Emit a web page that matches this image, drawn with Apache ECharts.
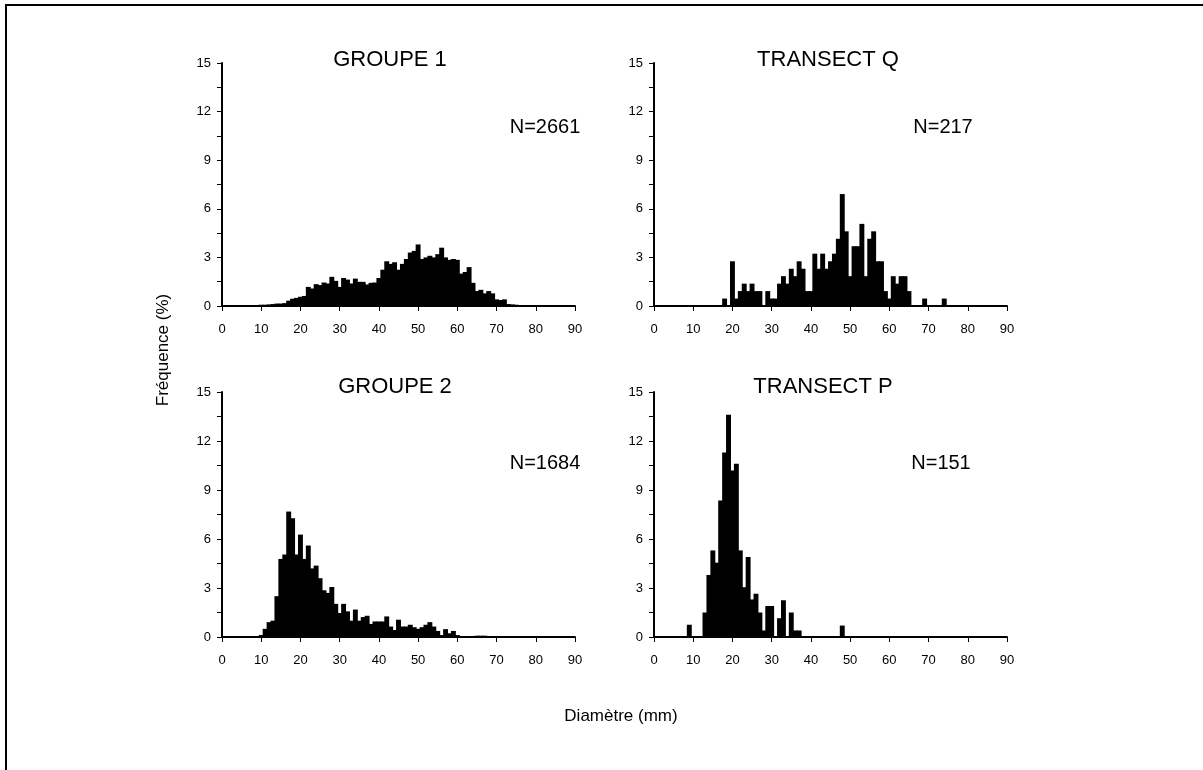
<!DOCTYPE html>
<html>
<head>
<meta charset="utf-8">
<script src="https://cdn.jsdelivr.net/npm/echarts@6/dist/echarts.min.js"></script>
<style>
  html, body { margin: 0; padding: 0; background: #fff; }
  #chart { width: 1203px; height: 770px; }
</style>
</head>
<body>
<div id="chart"></div>
<script>
// fréquences (%) par classe de diamètre de 1 mm (0 à 89 mm)
var groupe1 = [
  0, 0, 0, 0, 0, 0.03, 0.03, 0.05, 0.05, 0.05,
  0.08, 0.08, 0.1, 0.12, 0.15, 0.15, 0.18, 0.33, 0.45, 0.5,
  0.57, 0.62, 1.18, 1.08, 1.35, 1.29, 1.45, 1.39, 1.8, 1.55,
  1.18, 1.73, 1.63, 1.39, 1.69, 1.49, 1.49, 1.33, 1.43, 1.45,
  1.73, 2.24, 2.76, 2.6, 2.7, 2.24, 2.6, 2.9, 3.3, 3.4,
  3.8, 2.9, 3.0, 3.1, 3.0, 3.2, 3.6, 3.0, 2.85, 2.9,
  2.85, 2.0, 2.1, 2.4, 1.43, 0.92, 1.0, 0.78, 0.92, 0.78,
  0.41, 0.37, 0.41, 0.12, 0.1, 0.08, 0.06, 0.06, 0.05, 0.05,
  0.04, 0.04, 0.03, 0.03, 0.03, 0.03, 0.03, 0.03, 0.03, 0.03
];
var transectQ = [
  0, 0, 0, 0, 0, 0, 0, 0, 0, 0,
  0, 0, 0, 0, 0, 0, 0, 0, 0.46, 0,
  2.76, 0.46, 0.92, 1.38, 0.92, 1.38, 0.92, 0.92, 0, 0.92,
  0.46, 0.46, 1.38, 1.84, 1.38, 2.30, 1.84, 2.76, 2.30, 0.92,
  0.92, 3.23, 2.30, 3.23, 2.30, 2.76, 3.23, 4.15, 6.91, 4.61,
  1.84, 3.69, 3.69, 5.07, 1.84, 4.15, 4.61, 2.76, 2.76, 0.92,
  0.46, 1.84, 1.38, 1.84, 1.84, 0.92, 0, 0, 0, 0.46,
  0, 0, 0, 0, 0.46, 0, 0, 0, 0, 0,
  0, 0, 0, 0, 0, 0, 0, 0, 0, 0
];
var groupe2 = [
  0, 0, 0, 0, 0, 0, 0, 0, 0, 0.03,
  0.12, 0.5, 0.91, 1.0, 2.5, 4.78, 5.05, 7.68, 7.27, 5.05,
  6.27, 4.78, 5.6, 4.2, 4.37, 3.6, 2.86, 2.7, 3.06, 2.03,
  1.47, 2.03, 1.57, 1.0, 1.68, 1.0, 1.22, 1.3, 0.8, 0.95,
  0.95, 0.95, 1.26, 0.64, 0.43, 1.06, 0.64, 0.64, 0.75, 0.6,
  0.5, 0.6, 0.75, 0.91, 0.64, 0.37, 0.12, 0.48, 0.23, 0.37,
  0.12, 0.06, 0.06, 0.06, 0.06, 0.08, 0.08, 0.08, 0.03, 0.03,
  0.03, 0.03, 0.03, 0.03, 0.03, 0.03, 0.03, 0.03, 0.03, 0.03,
  0.03, 0.03, 0.03, 0.03, 0.03, 0.03, 0.03, 0.03, 0.03, 0.03
];
var transectP = [
  0, 0, 0, 0, 0, 0, 0, 0, 0, 0.75,
  0, 0, 0, 1.5, 3.8, 5.3, 4.55, 8.35, 11.3, 13.6,
  10.2, 10.6, 5.3, 3.05, 4.9, 2.3, 2.65, 1.5, 0.4, 1.9,
  1.9, 0, 1.15, 2.25, 0, 1.5, 0.4, 0.4, 0, 0,
  0, 0, 0, 0, 0, 0, 0, 0, 0.7, 0,
  0, 0, 0, 0, 0, 0, 0, 0, 0, 0,
  0, 0, 0, 0, 0, 0, 0, 0, 0, 0,
  0, 0, 0, 0, 0, 0, 0, 0, 0, 0,
  0, 0, 0, 0, 0, 0, 0, 0, 0, 0
];
var titres = ['GROUPE 1', 'TRANSECT Q', 'GROUPE 2', 'TRANSECT P'];
var effectifs = ['N=2661', 'N=217', 'N=1684', 'N=151'];
var yMax = 15, yPas = 1.5, xMax = 90, xPas = 10;

var police = 'Liberation Sans, Arial, sans-serif';
var series = [groupe1, transectQ, groupe2, transectP];
var grilles = [
  { left: 222, top: 63, width: 353, height: 243 },
  { left: 654, top: 63, width: 353, height: 243 },
  { left: 222, top: 392, width: 353, height: 245 },
  { left: 654, top: 392, width: 353, height: 245 }
];
var titrePos = [[390, 60], [828, 60], [395, 387], [823, 387]];
var nPos = [[545, 127], [943, 127], [545, 463], [941, 463]];

var ligne = { show: true, lineStyle: { color: '#000', width: 2 } };
var tick = { show: true, inside: false, length: 5, lineStyle: { color: '#000', width: 1 } };

// histogramme : classe de 1 mm centrée sur la valeur,
// élargie d'un demi-pixel de chaque côté pour éviter les liserés blancs
function barre(params, api) {
  var x = api.value(0), y = api.value(1);
  if (!y) return null;
  var p0 = api.coord([x - 0.5, y]);
  var p1 = api.coord([x + 0.5, 0]);
  return {
    type: 'rect',
    shape: { x: p0[0] - 0.5, y: p0[1], width: p1[0] - p0[0] + 1, height: p1[1] - p0[1] },
    style: { fill: '#000' }
  };
}

var xAxes = [], yAxes = [], seriesOpt = [], graphics = [];
for (var k = 0; k < 4; k++) {
  xAxes.push({
    type: 'value', gridIndex: k, min: 0, max: xMax, interval: xPas,
    axisLine: ligne, axisTick: tick, splitLine: { show: false },
    axisLabel: { color: '#000', fontSize: 13, fontFamily: police, margin: 17 }
  });
  yAxes.push({
    type: 'value', gridIndex: k, min: 0, max: yMax, interval: yPas,
    axisLine: ligne, axisTick: tick, splitLine: { show: false },
    axisLabel: {
      color: '#000', fontSize: 13, fontFamily: police, margin: 11,
      formatter: function (v) { return (Math.round(v * 10) % 30 === 0) ? String(v) : ''; }
    }
  });
  seriesOpt.push({
    type: 'custom', xAxisIndex: k, yAxisIndex: k, renderItem: barre,
    encode: { x: 0, y: 1 }, z: 1,
    data: series[k].map(function (v, i) { return [i, v]; })
  });
  graphics.push({
    type: 'text', x: titrePos[k][0], y: titrePos[k][1],
    style: { text: titres[k], fill: '#000', font: '22px ' + police, textAlign: 'center', textVerticalAlign: 'middle' }
  });
  graphics.push({
    type: 'text', x: nPos[k][0], y: nPos[k][1],
    style: { text: effectifs[k], fill: '#000', font: '20px ' + police, textAlign: 'center', textVerticalAlign: 'middle' }
  });
}
graphics.push({
  type: 'text', x: 163, y: 350, rotation: Math.PI / 2,
  style: { text: 'Fréquence (%)', fill: '#000', font: '17px ' + police, textAlign: 'center', textVerticalAlign: 'middle' }
});
graphics.push({
  type: 'text', x: 621, y: 716,
  style: { text: 'Diamètre (mm)', fill: '#000', font: '17px ' + police, textAlign: 'center', textVerticalAlign: 'middle' }
});
graphics.push({
  type: 'rect', shape: { x: 6, y: 5, width: 1260, height: 820 },
  style: { fill: 'none', stroke: '#000', lineWidth: 2 }
});

var chart = echarts.init(document.getElementById('chart'));
chart.setOption({
  animation: false,
  backgroundColor: '#fff',
  grid: grilles,
  xAxis: xAxes,
  yAxis: yAxes,
  series: seriesOpt,
  graphic: graphics
});
</script>
</body>
</html>
